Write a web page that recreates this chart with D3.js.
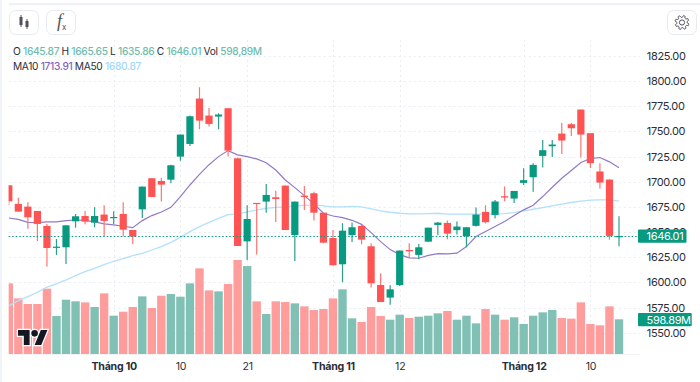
<!DOCTYPE html>
<html>
<head>
<meta charset="utf-8">
<script src="https://cdnjs.cloudflare.com/ajax/libs/d3/7.8.5/d3.min.js"></script>
<style>
  html, body { margin:0; padding:0; background:#fff; overflow:hidden; }
  text { font-family:Inter, "Liberation Sans", sans-serif; }
</style>
</head>
<body>
<div id="chart"></div>
<script>
const open_ = [1696.5,1678.0,1675.3,1671.0,1656.1,1634.5,1634.9,1660.7,1666.0,1659.4,1667.4,1664.4,1668.0,1652.1,1672.6,1703.5,1700.8,1702.1,1725.0,1737.6,1782.7,1765.8,1764.8,1773.1,1723.3,1640.8,1679.0,1680.3,1684.6,1696.2,1647.1,1686.2,1688.6,1669.3,1644.2,1618.0,1647.1,1656.1,1635.9,1597.4,1584.9,1597.4,1632.2,1627.3,1640.5,1657.1,1659.1,1651.9,1645.9,1656.2,1670.1,1667.1,1685.6,1683.3,1698.9,1704.5,1725.7,1735.3,1747.9,1757.2,1771.8,1748.3,1710.2,1702.2,1645.87]
const high = [1696.5,1684.2,1679.6,1671.0,1658.1,1643.2,1656.7,1668.0,1671.0,1674.6,1676.6,1670.7,1679.6,1652.1,1695.2,1703.5,1704.1,1717.0,1746.9,1765.8,1794.0,1773.4,1768.1,1773.1,1724.0,1676.6,1679.0,1697.8,1691.2,1696.2,1680.3,1695.8,1690.2,1669.3,1652.1,1658.7,1659.4,1657.1,1638.9,1609.0,1597.1,1631.6,1638.9,1638.2,1654.4,1660.1,1661.5,1660.5,1654.8,1674.4,1676.7,1682.0,1695.3,1690.9,1713.5,1718.5,1741.6,1741.6,1758.5,1758.5,1771.8,1748.3,1718.5,1702.2,1665.65]
const low = [1676.6,1670.3,1653.4,1641.2,1615.7,1627.3,1618.3,1654.4,1657.7,1654.8,1645.5,1658.1,1645.5,1638.2,1664.0,1684.9,1680.3,1698.5,1721.0,1735.6,1752.2,1754.9,1752.2,1725.0,1636.2,1622.3,1627.6,1669.3,1660.1,1652.1,1621.3,1672.0,1661.4,1638.9,1617.0,1600.1,1640.2,1637.9,1594.8,1580.5,1577.9,1596.4,1625.0,1623.0,1640.5,1646.8,1642.9,1647.6,1634.9,1655.5,1658.5,1663.5,1680.7,1679.0,1696.9,1690.0,1714.1,1724.7,1727.7,1745.6,1724.1,1713.8,1693.3,1642.3,1635.86]
const close = [1680.6,1670.3,1664.7,1658.1,1634.2,1635.5,1656.7,1665.7,1660.4,1666.0,1661.1,1665.0,1652.4,1645.5,1695.2,1684.9,1697.2,1716.4,1746.9,1765.1,1760.8,1757.5,1766.8,1731.0,1636.2,1663.0,1678.0,1686.9,1682.9,1652.1,1680.3,1684.9,1669.3,1639.5,1617.0,1651.4,1654.8,1642.5,1599.1,1580.5,1593.1,1631.6,1630.9,1634.9,1654.4,1659.4,1648.5,1655.5,1654.8,1667.4,1659.8,1680.4,1684.3,1690.9,1701.6,1716.8,1731.4,1737.0,1741.0,1753.2,1746.9,1718.5,1699.2,1646.2,1646.01]
const volume = [1219,960,863,863,1127,656,937,909,891,811,1047,661,730,811,995,794,1006,1035,989,1219,1478,1098,1081,1208,1622,1518,909,690,909,897,874,822,759,776,960,1116,615,552,811,656,592,679,621,644,661,702,742,592,661,529,776,679,592,633,518,661,719,759,621,610,891,518,495,822,598.89]
const ma10 = [1664.0,1662.7,1659.7,1659.4,1660.1,1660.1,1661.4,1662.0,1661.7,1660.1,1658.1,1657.1,1655.8,1654.4,1661.4,1666.4,1670.0,1674.6,1685.2,1696.8,1707.4,1717.0,1725.0,1731.0,1726.7,1725.0,1722.7,1719.0,1711.7,1701.8,1694.2,1686.2,1678.0,1668.7,1666.0,1664.4,1661.7,1657.7,1649.5,1640.5,1632.6,1627.6,1624.3,1624.0,1626.9,1628.6,1628.3,1629.0,1635.6,1645.6,1650.5,1655.5,1660.5,1666.4,1672.1,1676.7,1685.3,1694.6,1703.5,1711.2,1719.1,1723.1,1724.1,1719.8,1713.91]
const ma50 = [1576.6,1581.9,1585.9,1590.2,1595.2,1598.5,1602.4,1606.8,1610.7,1614.0,1617.7,1621.0,1623.6,1626.6,1628.9,1632.2,1635.5,1639.8,1644.8,1650.5,1655.4,1659.7,1663.7,1667.3,1668.0,1670.0,1672.0,1673.6,1674.6,1675.0,1676.0,1676.6,1677.0,1676.0,1675.0,1675.0,1675.6,1675.0,1673.0,1671.0,1669.7,1668.7,1668.0,1668.0,1668.3,1668.7,1667.8,1667.8,1667.8,1667.8,1667.8,1667.8,1668.4,1669.4,1671.1,1672.7,1674.4,1676.0,1677.7,1679.4,1680.7,1681.7,1682.0,1682.0,1680.87]

const priceTicks = [1550,1575,1600,1625,1650,1675,1700,1725,1750,1775,1800,1825]
const timeTicks = [11,18,25,34,41,54,61]
const timeLabels = ["Tháng 10","10","21","Tháng 11","12","Tháng 12","10"]

const green = "#089981", red = "#ff5252"
const paneLeft = 8.7, paneRight = 640, paneBottom = 354

const x = d3.scaleLinear().domain([0,64]).range([8.8,619])
const y = d3.scaleLinear().domain([1550,1825]).range([332.7,56])
const v = d3.scaleLinear().domain([0,1700]).range([paneBottom,paneBottom-98.5])
const idx = d3.range(open_.length)
const up = i => close[i] >= open_[i]

const svg = d3.select("#chart").append("svg")
  .attr("width",700)
  .attr("height",382)
  .style("display","block")

// frame strips
svg.append("rect").attr("x",9).attr("y",3).attr("width",691).attr("height",2.2).attr("fill","#eef1f7")
svg.append("rect").attr("width",2).attr("height",382).attr("fill","#f0f3f9")

svg.append("clipPath").attr("id","pane")
  .append("rect")
    .attr("x",paneLeft).attr("y",40)
    .attr("width",paneRight-paneLeft).attr("height",paneBottom-40)

// grid
const grid = svg.append("g")
  .attr("stroke","#e9ecf1")
  .attr("stroke-dasharray","2 3")
grid.selectAll(null)
  .data(priceTicks)
  .enter().append("line")
    .attr("x1",paneLeft).attr("x2",paneRight)
    .attr("y1",d=>Math.round(y(d))+0.5).attr("y2",d=>Math.round(y(d))+0.5)
grid.selectAll(null)
  .data(timeTicks)
  .enter().append("line")
    .attr("x1",d=>Math.round(x(d))+0.5).attr("x2",d=>Math.round(x(d))+0.5)
    .attr("y1",40).attr("y2",paneBottom)

svg.append("line")
  .attr("x1",paneLeft).attr("x2",paneRight)
  .attr("y1",paneBottom+0.5).attr("y2",paneBottom+0.5)
  .attr("stroke","#f1f3f6")

const plot = svg.append("g").attr("clip-path","url(#pane)")

// volume
plot.selectAll(null)
  .data(idx)
  .enter().append("rect")
    .attr("x",i=>x(i)-4.2)
    .attr("width",8.4)
    .attr("y",i=>v(volume[i]))
    .attr("height",i=>paneBottom-v(volume[i]))
    .attr("fill",i=>up(i) ? "#80c0b5" : "#ff9c9c")

// averages
const line = arr => d3.line().x((d,i)=>x(i)).y(d=>y(d))(arr)
plot.append("path").attr("d",line(ma50)).attr("fill","none").attr("stroke","#b3e0fb").attr("stroke-width",1.3)
plot.append("path").attr("d",line(ma10)).attr("fill","none").attr("stroke","#9379c6").attr("stroke-width",1.2)

// candles
plot.selectAll(null)
  .data(idx)
  .enter().append("line")
    .attr("x1",i=>x(i)).attr("x2",i=>x(i))
    .attr("y1",i=>y(high[i])).attr("y2",i=>y(low[i]))
    .attr("stroke",i=>up(i) ? "#2a9f8c" : "#ff7373")
    .attr("stroke-width",1.2)
plot.selectAll(null)
  .data(idx)
  .enter().append("rect")
    .attr("x",i=>x(i)-3.6)
    .attr("width",7.2)
    .attr("y",i=>y(Math.max(open_[i],close[i])))
    .attr("height",i=>Math.max(1.2,Math.abs(y(open_[i])-y(close[i]))))
    .attr("fill",i=>up(i) ? green : red)

// last price line
svg.append("line")
  .attr("x1",paneLeft).attr("x2",638)
  .attr("y1",Math.round(y(close[64]))+0.5).attr("y2",Math.round(y(close[64]))+0.5)
  .attr("stroke",green)
  .attr("stroke-dasharray","1.5 2")

// logo
svg.append("path")
  .attr("transform","translate(18,326.7) scale(.83)")
  .attr("d","M14 22H7V11H0V4h14v18zM28 22h-8l7.5-18h8L28 22zM24 8a4 4 0 1 1-8 0a4 4 0 0 1 8 0z")
  .attr("fill","#131722")
  .attr("stroke","#fff")
  .attr("stroke-width",3)
  .attr("paint-order","stroke")

// axes
const yAxis = svg.append("g")
  .attr("transform","translate(646.8,0)")
  .call(d3.axisRight(y).tickValues(priceTicks).tickSize(0).tickPadding(0).tickFormat(d3.format(".2f")))
yAxis.select(".domain").remove()
yAxis.selectAll("text").attr("fill","#2a2e39").style("font-size","11px").style("letter-spacing","-0.35px")

const xAxis = svg.append("g")
  .attr("transform","translate(0,362)")
  .call(d3.axisBottom(x).tickValues(timeTicks).tickSize(0).tickPadding(0).tickFormat((d,i)=>timeLabels[i]))
xAxis.select(".domain").remove()
xAxis.selectAll("text")
  .attr("fill","#2a2e39")
  .style("font-size","10.6px")
  .style("letter-spacing","-0.25px")
  .style("font-weight",(d,i)=>timeLabels[i].startsWith("Tháng") ? 700 : 400)

// value tags
const tag = (x0,w,cy,label) => {
  svg.append("rect").attr("x",x0).attr("y",cy-6.6).attr("width",w).attr("height",13.2).attr("fill",green).attr("rx",1)
  svg.append("text").attr("x",x0+8.6).attr("y",cy+4).attr("fill","#fff")
    .style("font-size","11px").style("letter-spacing","-0.35px").text(label)
}
tag(638,48.5,y(close[64]),"1646.01")
tag(638,53.7,v(volume[64])+0.3,"598.89M")

// legend
const legend = (yPos,parts) => {
  const t = svg.append("text").attr("x",13).attr("y",yPos).style("font-size","10.2px").style("letter-spacing","-0.33px")
  parts.forEach(p => t.append("tspan").attr("fill",p[1]).attr("font-weight",p[2] || 400).text(p[0]))
}
const lg = "#6fbdae", ink = "#2a2e39"
legend(54.5,[["O ",ink],["1645.87 ",lg,500],["H ",ink],["1665.65 ",lg,500],["L ",ink],["1635.86 ",lg,500],["C ",ink],["1646.01 ",lg,500],["Vol ",ink],["598,89M",lg,500]])
legend(69.5,[["MA10 ",ink],["1713.91 ","#8463c0",500],["MA50 ",ink],["1680.87","#a5d8ff",500]])

// toolbar buttons
const buttons = [9.5,46.5,667.5]
svg.selectAll(null)
  .data(buttons)
  .enter().append("rect")
    .attr("x",d=>d).attr("y",10.5)
    .attr("width",29).attr("height",24).attr("rx",6)
    .attr("fill","#fff").attr("stroke","#e6eaf1")

const icon = svg.append("g").attr("fill","#50535e").attr("stroke","#50535e")
icon.append("path").attr("d","M21 15v12M27 19v10").attr("stroke-width",1).attr("fill","none")
icon.append("rect").attr("x",19.5).attr("y",17).attr("width",3).attr("height",8).attr("stroke","none")
icon.append("rect").attr("x",25.5).attr("y",21).attr("width",3).attr("height",6).attr("stroke","none")

svg.append("text").attr("x",57).attr("y",27).attr("fill","#50535e")
  .style("font-family","'Liberation Serif', serif").style("font-style","italic").style("font-size","18px").text("f")
svg.append("text").attr("x",62).attr("y",29.5).attr("fill","#50535e").style("font-size","8px").text("x")

// gear
const gearPts = d3.range(48).map(k => {
  const a = k/48*2*Math.PI, r = (k%6<3) ? 7 : 5.2
  return [r*Math.cos(a+0.2),r*Math.sin(a+0.2)]
})
const gear = svg.append("g").attr("transform","translate(682,22.5)")
  .attr("fill","none").attr("stroke","#50535e").attr("stroke-width",1)
gear.append("path").attr("d",d3.line().curve(d3.curveCardinalClosed.tension(0.6))(gearPts))
gear.append("circle").attr("r",2.6)
</script>
</body>
</html>
